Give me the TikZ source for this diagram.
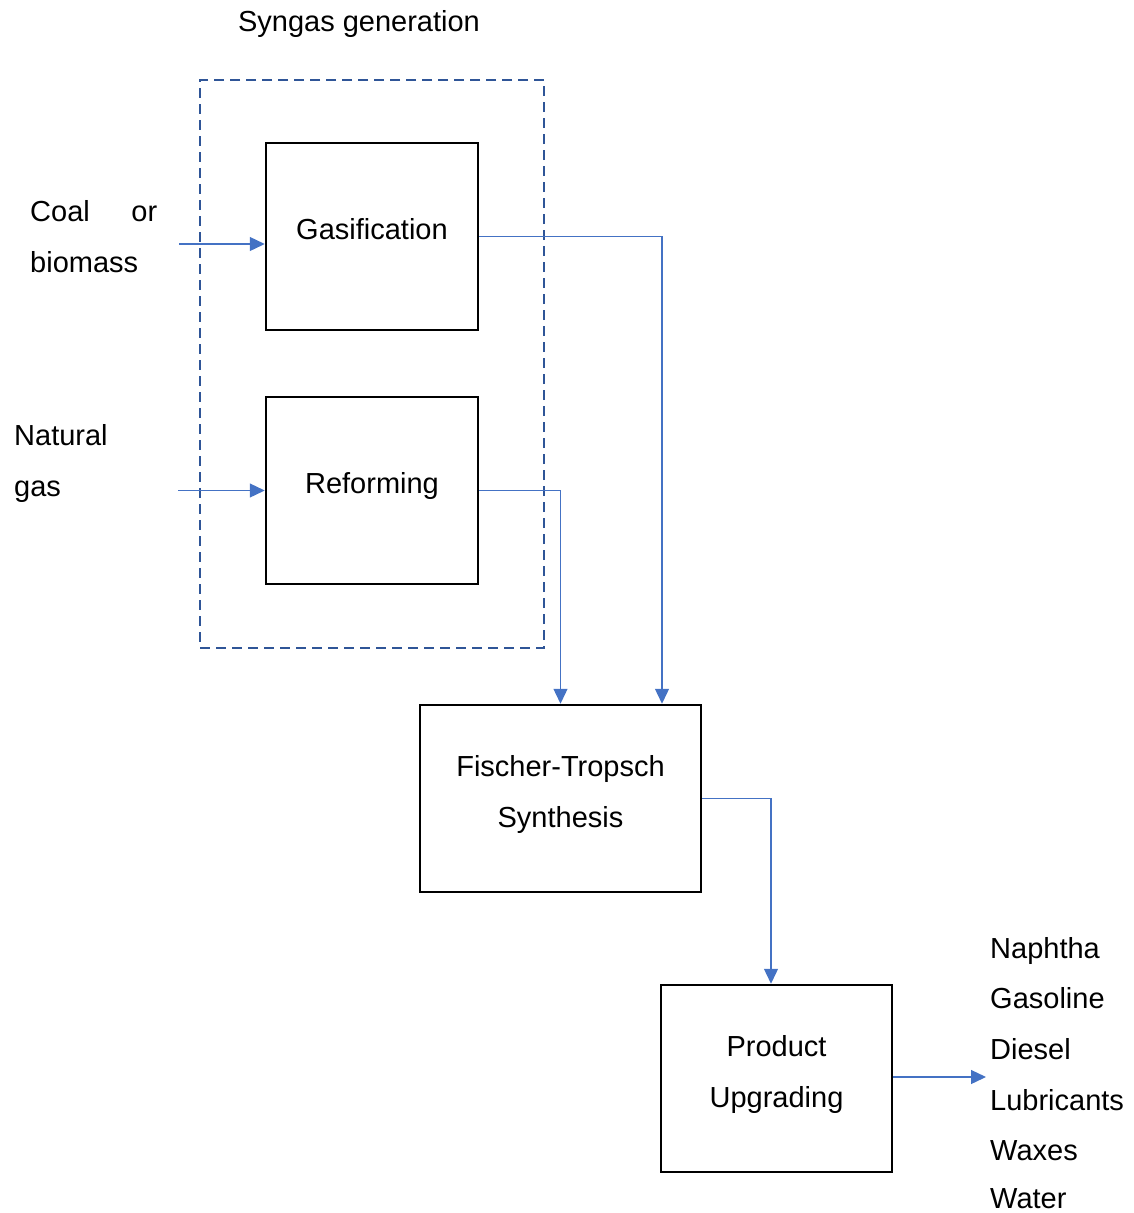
\documentclass[tikz,border=0pt]{standalone}
\usepackage{fontspec}
\setmainfont{Liberation Sans}
\usetikzlibrary{arrows.meta,calc}
\definecolor{arrowblue}{HTML}{4472C4}
\definecolor{dashblue}{HTML}{2F5597}
\begin{document}
\begin{tikzpicture}[x=1pt,y=-1pt,
  every node/.style={font=\fontsize{29}{51}\selectfont},
  box/.style={draw=black, line width=2.5pt, minimum width=212pt, minimum height=187pt, inner sep=0pt},
  txt/.style={inner sep=0pt, align=center},
  flow/.style={draw=arrowblue, line width=1.3pt, -{Triangle[length=15pt,width=14pt]}},
  dashbox/.style={draw=dashblue, line width=2.5pt, dash pattern=on 10pt off 6pt, minimum width=344pt, minimum height=568pt, inner sep=0pt}
]
\useasboundingbox (0,0) rectangle (1134,1213);

\node[dashbox] (syn) at (372,364) {};
\node[txt, anchor=base] (syntitle) at (359,31) {Syngas generation};

\node[box] (gas) at (372,236.5) {};
\node[txt, anchor=base] (gastxt) at (372,239) {Gasification};
\node[box] (ref) at (372,490.5) {};
\node[txt, anchor=base] (reftxt) at (372,493) {Reforming};
\node[box, minimum width=281pt] (ft) at (560.5,798.5) {};
\node[txt, anchor=base] (fttxt1) at (560.5,776) {Fischer-Tropsch};
\node[txt, anchor=base] (fttxt2) at (560.5,827) {Synthesis};
\node[box, minimum width=231pt] (pu) at (776.5,1078.5) {};
\node[txt, anchor=base] (putxt1) at (776.5,1056) {Product};
\node[txt, anchor=base] (putxt2) at (776.5,1107) {Upgrading};

\node[inner sep=0pt, anchor=base west] (coal1) at (30,221) {\makebox[127pt][s]{Coal or}};
\node[inner sep=0pt, anchor=base west] (coal2) at (30,272) {biomass};
\node[inner sep=0pt, anchor=base west] (ng1) at (14,445) {Natural};
\node[inner sep=0pt, anchor=base west] (ng2) at (14,496) {gas};

\node[inner sep=0pt, anchor=base west] (o1) at (990,958) {Naphtha};
\node[inner sep=0pt, anchor=base west] (o2) at (990,1008) {Gasoline};
\node[inner sep=0pt, anchor=base west] (o3) at (990,1059) {Diesel};
\node[inner sep=0pt, anchor=base west] (o4) at (990,1110) {Lubricants};
\node[inner sep=0pt, anchor=base west] (o5) at (990,1160) {Waxes};
\node[inner sep=0pt, anchor=base west, text depth=0pt] (o6) at (990,1208) {Water};

\coordinate (coalin) at (179,244);
\coordinate (ngin) at (178,490.5);
\coordinate (gasx) at (662,0);
\coordinate (pux) at (771,0);
\coordinate (prodout) at (986,1077);

\draw[flow] (coalin) -- (coalin -| gas.west);
\draw[flow] (ngin) -- (ref.west);
\draw[flow] (gas.east) -| (ft.north -| gasx);
\draw[flow] (ref.east) -| (ft.north);
\draw[flow] (ft.east) -| (pu.north -| pux);
\draw[flow] (pu.east |- prodout) -- (prodout);
\end{tikzpicture}
\end{document}
